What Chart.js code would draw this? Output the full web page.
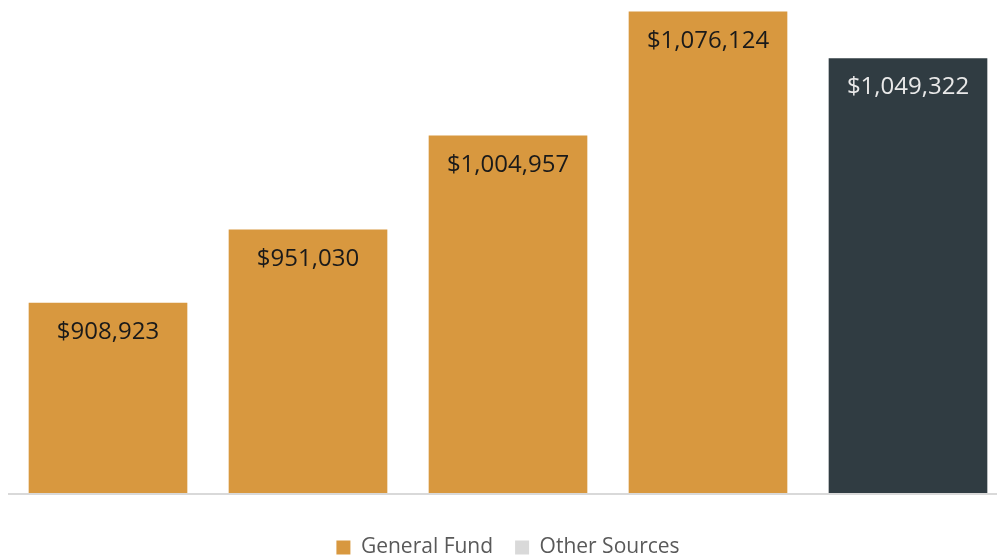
<!DOCTYPE html>
<html>
<head>
<meta charset="utf-8">
<script src="https://cdn.jsdelivr.net/npm/chart.js@4"></script>
<style>
html,body{margin:0;padding:0;background:#fff;}
#wrap{width:997px;height:556px;}
</style>
</head>
<body>
<div id="wrap"><canvas id="c"></canvas></div>
<script>
const categories = ["Year 1", "Year 2", "Year 3", "Year 4", "Year 5"];
const generalFund = [908923, 951030, 1004957, 1076124, 1049322];
const otherSources = [null, null, null, null, null];
const barColors = ["#d8983f", "#d8983f", "#d8983f", "#d8983f", "#303c42"];
const labelColors = ["#1a1a1a", "#1a1a1a", "#1a1a1a", "#1a1a1a", "#e9e9e9"];
const yMin = 800000, yMax = 1080000;

const fmt = v => "$" + v.toLocaleString("en-US");

const labelPlugin = {
  id: "barLabels",
  afterDatasetsDraw(chart) {
    const ctx = chart.ctx;
    const meta = chart.getDatasetMeta(0);
    ctx.save();
    ctx.font = "24px 'Open Sans'";
    ctx.textAlign = "center";
    ctx.textBaseline = "middle";
    meta.data.forEach((bar, i) => {
      ctx.fillStyle = labelColors[i];
      ctx.fillText(fmt(generalFund[i]), bar.x, bar.y + 29);
    });
    ctx.restore();
  }
};

const baselinePlugin = {
  id: "baseline",
  afterDatasetsDraw(chart) {
    const ctx = chart.ctx;
    const y = chart.scales.y.getPixelForValue(yMin);
    ctx.save();
    ctx.strokeStyle = "#d9d9d9";
    ctx.lineWidth = 2;
    ctx.beginPath();
    ctx.moveTo(8, y + 1);
    ctx.lineTo(997, y + 1);
    ctx.stroke();
    ctx.restore();
  }
};

new Chart(document.getElementById("c"), {
  type: "bar",
  data: {
    labels: categories,
    datasets: [
      { label: "General Fund", data: generalFund, backgroundColor: barColors, borderWidth: 0, barThickness: 158, clip: false, base: yMin },
      { label: "Other Sources", data: otherSources, backgroundColor: "#d9d9d9", borderWidth: 0, barThickness: 158, clip: false, base: yMin }
    ]
  },
  options: {
    responsive: true,
    maintainAspectRatio: false,
    animation: false,
    grouped: false,
    layout: { padding: { left: 108, right: 89, top: 5, bottom: -12 } },
    scales: {
      x: {
        display: true, offset: false,
        grid: { display: false }, border: { display: false },
        ticks: { display: false },
        afterFit(scale) { scale.height = 22; }
      },
      y: { display: false, min: yMin, max: yMax }
    },
    plugins: {
      tooltip: { enabled: false },
      legend: {
        position: "bottom",
        labels: {
          color: "#595959",
          font: { family: "'Open Sans'", size: 21 },
          boxWidth: 14,
          boxHeight: 14,
          padding: 22,
          generateLabels(chart) {
            return chart.data.datasets.map((ds, i) => ({
              text: ds.label,
              fillStyle: i === 0 ? "#d8983f" : "#d9d9d9",
              strokeStyle: "transparent",
              lineWidth: 0,
              fontColor: "#595959",
              datasetIndex: i,
              hidden: false
            }));
          }
        }
      }
    }
  },
  plugins: [labelPlugin, baselinePlugin]
});
</script>
</body>
</html>
